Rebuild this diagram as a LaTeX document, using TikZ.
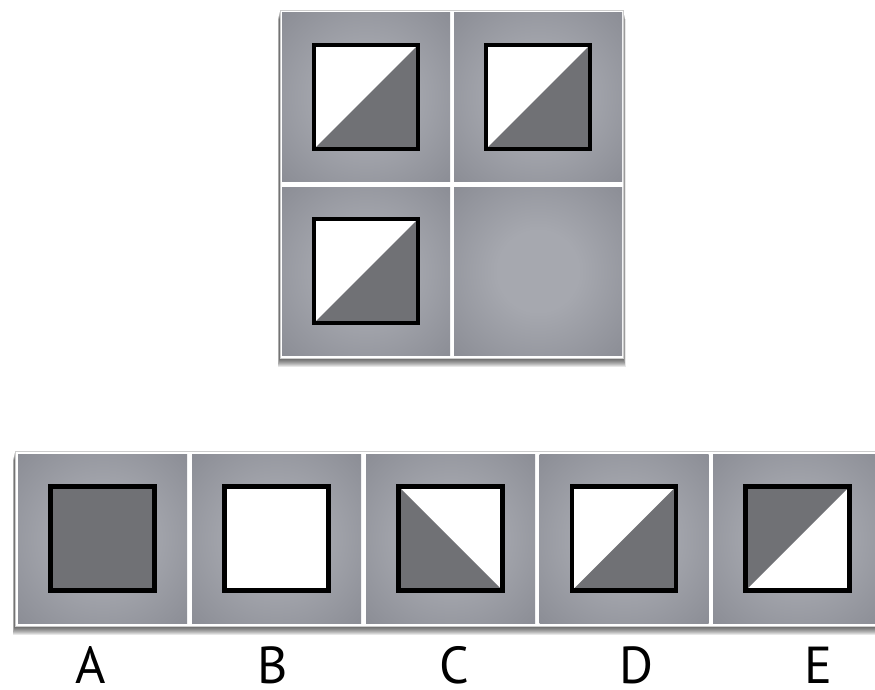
\documentclass[tikz,border=0pt]{standalone}
\usepackage{fontspec}
\setsansfont{PT Sans}
\usepackage{tikz}
\usetikzlibrary{backgrounds}
\definecolor{cellhi}{RGB}{166,168,175}
\definecolor{cellmid}{RGB}{141,143,151}
\definecolor{celllo}{RGB}{124,126,134}
\definecolor{celldk}{RGB}{116,118,126}
\definecolor{darktri}{RGB}{112,113,117}
\pgfdeclareradialshading{cellglow}{\pgfpoint{0bp}{0bp}}{%
  color(0bp)=(cellhi); color(12bp)=(cellhi); color(34bp)=(cellmid);
  color(50bp)=(celllo); color(72bp)=(celldk)}

% one answer square: white base, dark part, black rim
\newcommand{\sqtile}[2]{%
  \begin{scope}[shift={(#1.center)}]
    \fill[white] (-52,-52) rectangle (52,52);
    #2
    \draw[box] (-52,-52) rectangle (52,52);
  \end{scope}}

% soft shadow under a frame node
\newcommand{\softshadow}[1]{%
  \foreach \k in {1,...,9}
    \fill[black, opacity=0.095]
      ([xshift=-0.25*\k pt, yshift=-\k pt]#1.north west)
      rectangle ([xshift=0.25*\k pt, yshift=-\k pt]#1.south east);}

\begin{document}
\begin{tikzpicture}[x=1pt, y=-1pt]
\tikzset{
  cell/.style={shading=cellglow, minimum width=168pt, minimum height=168pt, inner sep=0pt},
  frame/.style={fill=white, draw=black!20, line width=0.5pt, inner sep=0pt},
  box/.style={draw=black, line width=4.5pt},
  tri/.style={fill=darktri},
  lbl/.style={font=\sffamily\fontsize{52}{52}\selectfont, inner sep=0pt, anchor=base}
}
\useasboundingbox (0,0) rectangle (875,690);
\clip (0,0) rectangle (875,690);

% question grid
\node[frame, minimum width=343pt, minimum height=348pt] (qframe) at (451.5,184) {};
\node[cell] (q1) at (366,97) {};
\node[cell] (q2) at (538,97) {};
\node[cell] (q3) at (366,271) {};
\node[cell] (q4) at (538,271) {};
\sqtile{q1}{\fill[tri] (-52,52) -- (52,-52) -- (52,52) -- cycle;}
\sqtile{q2}{\fill[tri] (-52,52) -- (52,-52) -- (52,52) -- cycle;}
\sqtile{q3}{\fill[tri] (-52,52) -- (52,-52) -- (52,52) -- cycle;}

% answer row
\node[frame, minimum width=880pt, minimum height=175pt] (aframe) at (455,538.5) {};
\node[cell, minimum width=169pt, minimum height=169pt] (ansA) at (102.5,538.5) {};
\node[cell, minimum width=169pt, minimum height=169pt] (ansB) at (276.5,538.5) {};
\node[cell, minimum width=169pt, minimum height=169pt] (ansC) at (450.5,538.5) {};
\node[cell, minimum width=169pt, minimum height=169pt] (ansD) at (624,538.5) {};
\node[cell, minimum width=169pt, minimum height=169pt] (ansE) at (797.5,538.5) {};
\sqtile{ansA}{\fill[tri] (-52,-52) rectangle (52,52);}
\sqtile{ansB}{}
\sqtile{ansC}{\fill[tri] (-52,-52) -- (52,52) -- (-52,52) -- cycle;}
\sqtile{ansD}{\fill[tri] (-52,52) -- (52,-52) -- (52,52) -- cycle;}
\sqtile{ansE}{\fill[tri] (-52,-52) -- (52,-52) -- (-52,52) -- cycle;}

\begin{scope}[on background layer]
  \softshadow{qframe}
  \softshadow{aframe}
\end{scope}

% letters
\node[lbl] (lblA) at (91,683) {A};
\node[lbl] (lblB) at (273,683) {B};
\node[lbl] (lblC) at (454,683) {C};
\node[lbl] (lblD) at (636,683) {D};
\node[lbl] (lblE) at (818,683) {E};
\end{tikzpicture}
\end{document}
